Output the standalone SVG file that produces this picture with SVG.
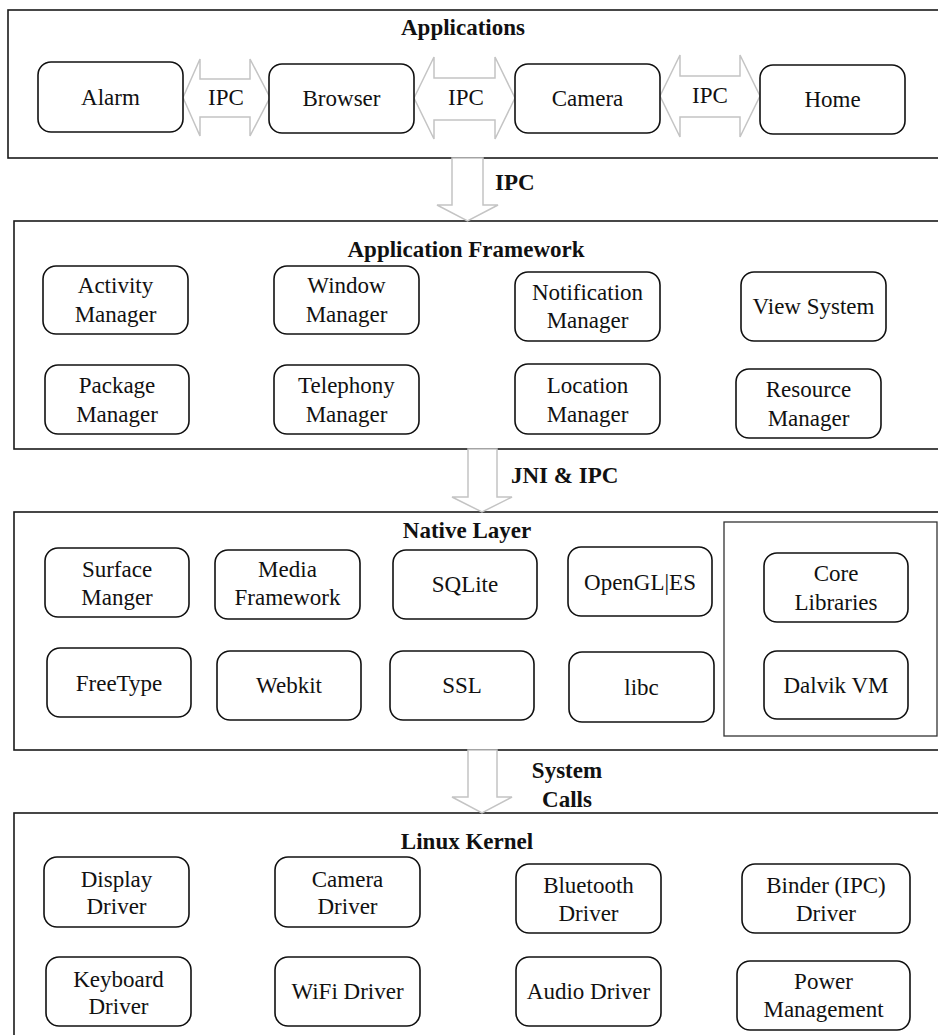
<svg xmlns="http://www.w3.org/2000/svg" width="938" height="1035" viewBox="0 0 938 1035">
<style>
.frame{fill:none;stroke:#1a1a1a;stroke-width:1.6}
.inner{fill:none;stroke:#333;stroke-width:1.3}
.box{fill:#fff;stroke:#111;stroke-width:1.6}
.arrow{fill:#fff;stroke:#c4c4c4;stroke-width:1.5;stroke-linejoin:miter}
.t{font-family:"Liberation Serif","Times New Roman",serif;font-size:23px;fill:#111;text-anchor:middle}
.b{font-family:"Liberation Serif","Times New Roman",serif;font-size:23px;font-weight:bold;fill:#111;text-anchor:middle}
.bl{font-family:"Liberation Serif","Times New Roman",serif;font-size:23px;font-weight:bold;fill:#111}
</style>
<rect width="938" height="1035" fill="#fff"/>

<g id="layer-applications">
<rect class="frame" x="8" y="10" width="945" height="148"/>
<text class="b" x="463" y="35">Applications</text>
</g>
<g id="layer-framework">
<rect class="frame" x="14" y="221" width="940" height="228"/>
<text class="b" x="466" y="257">Application Framework</text>
</g>
<g id="layer-native">
<rect class="frame" x="14" y="512" width="940" height="238"/>
<text class="b" x="467" y="538">Native Layer</text>
<rect class="inner" x="724" y="522" width="213" height="214"/>
</g>
<g id="layer-kernel">
<rect class="frame" x="14" y="813" width="940" height="240"/>
<text class="b" x="467" y="849">Linux Kernel</text>
</g>

<g id="connectors">
<polygon class="arrow" points="183,97.5 200,59 200,79 250,79 250,59 270,97.5 250,136 250,117 200,117 200,136"/>
<polygon class="arrow" points="414,98 434,57 434,78 495,78 495,57 515,98 495,139 495,120 434,120 434,139"/>
<polygon class="arrow" points="660,96 680,55 680,76 740,76 740,55 760,96 740,137 740,117 680,117 680,137"/>
<polygon class="arrow" points="452,158 483,158 483,205 498,205 467.5,221 437,205 452,205"/>
<polygon class="arrow" points="468,449 497,449 497,497 512,497 482,512 452,497 468,497"/>
<polygon class="arrow" points="468,750 497,750 497,797 512,797 482,813 452,797 468,797"/>
<text class="t" x="226" y="105">IPC</text>
<text class="t" x="466" y="105">IPC</text>
<text class="t" x="710" y="103">IPC</text>
<text class="bl" x="495" y="190">IPC</text>
<text class="bl" x="511" y="483">JNI &amp; IPC</text>
<text class="b" x="567" y="778">System</text>
<text class="b" x="567" y="807">Calls</text>
</g>

<g id="app-alarm"><rect class="box" x="38" y="62" width="145" height="70" rx="13"/><text class="t" x="110.5" y="105">Alarm</text></g>
<g id="app-browser"><rect class="box" x="269" y="64" width="145" height="69" rx="13"/><text class="t" x="341.5" y="106">Browser</text></g>
<g id="app-camera"><rect class="box" x="515" y="64" width="145" height="69" rx="13"/><text class="t" x="587.5" y="106">Camera</text></g>
<g id="app-home"><rect class="box" x="760" y="65" width="145" height="69" rx="13"/><text class="t" x="832.5" y="107">Home</text></g>

<g id="fw-activity"><rect class="box" x="43" y="266" width="145" height="68" rx="13"/><text class="t" x="115.5" y="293">Activity</text><text class="t" x="115.5" y="322">Manager</text></g>
<g id="fw-window"><rect class="box" x="274" y="266" width="145" height="68" rx="13"/><text class="t" x="346.5" y="293">Window</text><text class="t" x="346.5" y="322">Manager</text></g>
<g id="fw-notification"><rect class="box" x="515" y="272" width="145" height="69" rx="13"/><text class="t" x="587.5" y="300">Notification</text><text class="t" x="587.5" y="328">Manager</text></g>
<g id="fw-view"><rect class="box" x="741" y="272" width="145" height="69" rx="13"/><text class="t" x="813.5" y="314">View System</text></g>
<g id="fw-package"><rect class="box" x="45" y="365" width="144" height="69" rx="13"/><text class="t" x="117" y="393">Package</text><text class="t" x="117" y="422">Manager</text></g>
<g id="fw-telephony"><rect class="box" x="274" y="365" width="145" height="69" rx="13"/><text class="t" x="346.5" y="393">Telephony</text><text class="t" x="346.5" y="422">Manager</text></g>
<g id="fw-location"><rect class="box" x="515" y="364" width="145" height="70" rx="13"/><text class="t" x="587.5" y="393">Location</text><text class="t" x="587.5" y="422">Manager</text></g>
<g id="fw-resource"><rect class="box" x="736" y="369" width="145" height="69" rx="13"/><text class="t" x="808.5" y="397">Resource</text><text class="t" x="808.5" y="426">Manager</text></g>

<g id="nat-surface"><rect class="box" x="45" y="548" width="144" height="69" rx="13"/><text class="t" x="117" y="577">Surface</text><text class="t" x="117" y="605">Manger</text></g>
<g id="nat-media"><rect class="box" x="215" y="550" width="145" height="69" rx="13"/><text class="t" x="287.5" y="577">Media</text><text class="t" x="287.5" y="605">Framework</text></g>
<g id="nat-sqlite"><rect class="box" x="393" y="550" width="144" height="69" rx="13"/><text class="t" x="465" y="592">SQLite</text></g>
<g id="nat-opengl"><rect class="box" x="568" y="547" width="144" height="69" rx="13"/><text class="t" x="640" y="590">OpenGL|ES</text></g>
<g id="nat-freetype"><rect class="box" x="47" y="648" width="144" height="69" rx="13"/><text class="t" x="119" y="691">FreeType</text></g>
<g id="nat-webkit"><rect class="box" x="217" y="651" width="144" height="69" rx="13"/><text class="t" x="289" y="693">Webkit</text></g>
<g id="nat-ssl"><rect class="box" x="390" y="651" width="144" height="69" rx="13"/><text class="t" x="462" y="693">SSL</text></g>
<g id="nat-libc"><rect class="box" x="569" y="652" width="145" height="70" rx="13"/><text class="t" x="641.5" y="695">libc</text></g>
<g id="nat-core"><rect class="box" x="764" y="553" width="144" height="69" rx="13"/><text class="t" x="836" y="581">Core</text><text class="t" x="836" y="610">Libraries</text></g>
<g id="nat-dalvik"><rect class="box" x="764" y="651" width="144" height="68" rx="13"/><text class="t" x="836" y="693">Dalvik VM</text></g>

<g id="k-display"><rect class="box" x="44" y="857" width="145" height="70" rx="13"/><text class="t" x="116.5" y="887">Display</text><text class="t" x="116.5" y="914">Driver</text></g>
<g id="k-camera"><rect class="box" x="275" y="857" width="145" height="70" rx="13"/><text class="t" x="347.5" y="887">Camera</text><text class="t" x="347.5" y="914">Driver</text></g>
<g id="k-bluetooth"><rect class="box" x="516" y="864" width="145" height="69" rx="13"/><text class="t" x="588.5" y="893">Bluetooth</text><text class="t" x="588.5" y="921">Driver</text></g>
<g id="k-binder"><rect class="box" x="742" y="864" width="168" height="69" rx="13"/><text class="t" x="826" y="893">Binder (IPC)</text><text class="t" x="826" y="921">Driver</text></g>
<g id="k-keyboard"><rect class="box" x="46" y="957" width="145" height="69" rx="13"/><text class="t" x="118.5" y="987">Keyboard</text><text class="t" x="118.5" y="1014">Driver</text></g>
<g id="k-wifi"><rect class="box" x="275" y="957" width="145" height="69" rx="13"/><text class="t" x="347.5" y="999">WiFi Driver</text></g>
<g id="k-audio"><rect class="box" x="516" y="957" width="145" height="69" rx="13"/><text class="t" x="588.5" y="999">Audio Driver</text></g>
<g id="k-power"><rect class="box" x="737" y="961" width="173" height="69" rx="13"/><text class="t" x="823.5" y="989">Power</text><text class="t" x="823.5" y="1017">Management</text></g>
</svg>
